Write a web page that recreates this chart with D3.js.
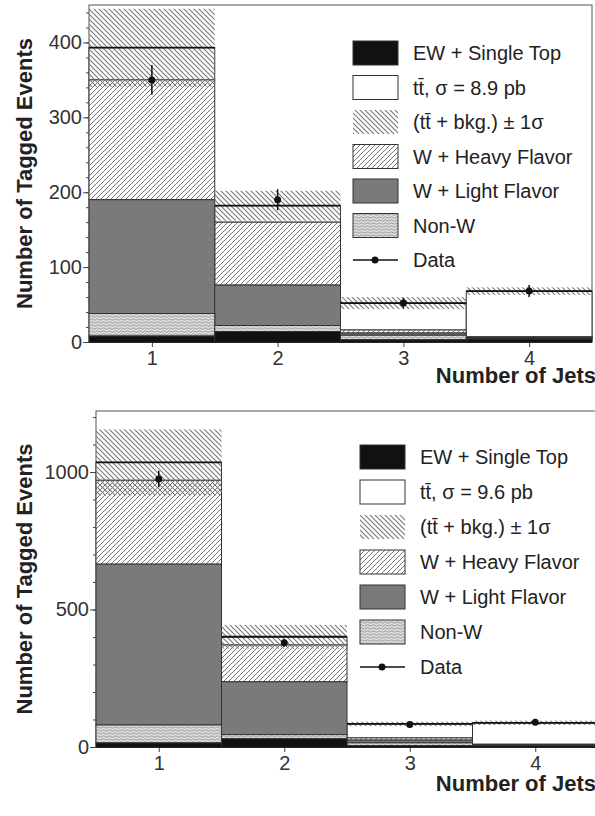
<!DOCTYPE html>
<html><head><meta charset="utf-8">
<script src="https://cdn.jsdelivr.net/npm/d3@7"></script>
<style>body{margin:0;background:#fff}svg{display:block;font-family:"Liberation Sans",Arial,sans-serif}</style>
</head><body><svg id="c" width="595" height="816"></svg>
<script>
// stacked tops (cumulative) per jet bin
const jets = [1, 2, 3, 4];
const topEW = [8, 14, 3, 4];
const topNonW = [38, 22, 9, 5];
const topLF = [190, 76, 12, 6];
const topHF = [350, 160, 16, 7];
const topTT = [393, 182, 52, 68];
const topErr = [52, 20, 8, 5];
const topData = [350, 190, 52, 68];
const topDataErr = [20, 14, 7, 8];

const botEW = [15, 30, 5, 3];
const botNonW = [80, 45, 15, 5];
const botLF = [665, 237, 25, 8];
const botHF = [970, 371, 33, 10];
const botTT = [1035, 401, 84, 88];
const botErr = [120, 43, 8, 8];
const botData = [975, 379, 82, 90];
const botDataErr = [30, 14, 6, 6];

const svg = d3.select("#c");
const defs = svg.append("defs");
function pat(id, w, h, draw) {
  const p = defs.append("pattern").attr("id", id).attr("patternUnits", "userSpaceOnUse")
    .attr("width", w).attr("height", h);
  draw(p);
}
pat("hf", 5, 5, p => {
  p.append("rect").attr("width", 5).attr("height", 5).attr("fill", "#fff");
  p.append("path").attr("d", "M0,5L5,0M-1,1L1,-1M4,6L6,4").attr("stroke", "#666").attr("stroke-width", 0.9);
});
pat("band", 5, 5, p => {
  p.append("path").attr("d", "M0,0L5,5M-1,4L1,6M4,-1L6,1").attr("stroke", "#777").attr("stroke-width", 1.1);
});
pat("nonw", 6, 3, p => {
  p.append("rect").attr("width", 6).attr("height", 3).attr("fill", "#ddd");
  p.append("path").attr("d", "M0,1.5Q1.5,0 3,1.5T6,1.5").attr("fill", "none").attr("stroke", "#888").attr("stroke-width", 0.8);
});

const fills = { ew: "#111", tt: "#fff", band: "url(#band)", hf: "url(#hf)", lf: "#7a7a7a", nonw: "url(#nonw)" };

function panel(cfg) {
  const { left, right, top, bottom, ymax, major, minor, d, leg } = cfg;
  const x = d3.scaleLinear().domain([0.5, 4.5]).range([left, right]);
  const y = d3.scaleLinear().domain([0, ymax]).range([bottom, top]);
  const g = svg.append("g");
  g.append("rect").attr("x", left).attr("y", top).attr("width", right - left).attr("height", bottom - top)
    .attr("fill", "#fff").attr("stroke", "#555").attr("stroke-width", 1);

  const layers = [
    ["tt", d.tt, d.hf], ["hf", d.hf, d.lf], ["lf", d.lf, d.nonw], ["nonw", d.nonw, d.ew], ["ew", d.ew, d.ew.map(() => 0)]
  ];
  layers.forEach(([k, hi, lo]) => {
    g.selectAll(null).data(jets).join("rect")
      .attr("x", j => x(j - 0.5)).attr("width", x(1.5) - x(0.5))
      .attr("y", (j, i) => y(hi[i])).attr("height", (j, i) => y(lo[i]) - y(hi[i]))
      .attr("fill", fills[k]).attr("stroke", "#333").attr("stroke-width", 1);
  });
  // uncertainty band
  g.selectAll(null).data(jets).join("rect")
    .attr("x", j => x(j - 0.5)).attr("width", x(1.5) - x(0.5))
    .attr("y", (j, i) => y(d.tt[i] + d.err[i])).attr("height", (j, i) => y(d.tt[i] - d.err[i]) - y(d.tt[i] + d.err[i]))
    .attr("fill", fills.band);
  g.selectAll(null).data(jets).join("line")
    .attr("x1", j => x(j - 0.5)).attr("x2", j => x(j + 0.5))
    .attr("y1", (j, i) => y(d.tt[i])).attr("y2", (j, i) => y(d.tt[i]))
    .attr("stroke", "#111").attr("stroke-width", 1.8);
  // data
  g.selectAll(null).data(jets).join("line")
    .attr("x1", j => x(j)).attr("x2", j => x(j))
    .attr("y1", (j, i) => y(d.data[i] - d.derr[i])).attr("y2", (j, i) => y(d.data[i] + d.derr[i]))
    .attr("stroke", "#111").attr("stroke-width", 1.5);
  g.selectAll(null).data(jets).join("circle")
    .attr("cx", j => x(j)).attr("cy", (j, i) => y(d.data[i])).attr("r", 3.5).attr("fill", "#111");

  // axes
  const ya = g.append("g").attr("transform", `translate(${left},0)`)
    .call(d3.axisLeft(y).tickValues(d3.range(0, ymax + 1, major)).tickSize(6).tickPadding(1).tickFormat(d3.format("d")));
  g.append("g").attr("transform", `translate(${left},0)`)
    .call(d3.axisLeft(y).tickValues(d3.range(0, ymax + 1, minor)).tickSize(3).tickFormat(""));
  const xa = g.append("g").attr("transform", `translate(0,${bottom})`)
    .call(d3.axisBottom(x).tickValues(jets).tickSize(5).tickPadding(4).tickFormat(d3.format("d")));
  [ya, xa].forEach(a => {
    a.select(".domain").remove();
    a.selectAll("text").attr("font-size", 20).attr("fill", "#333").attr("font-family", "Liberation Sans, Arial, sans-serif");
  });
  g.selectAll(".domain").remove();
  g.selectAll(".tick line").attr("stroke", "#444");
  g.append("line").attr("x1", left).attr("x2", right).attr("y1", bottom).attr("y2", bottom).attr("stroke", "#111").attr("stroke-width", 1.5);

  g.append("text").attr("transform", `translate(${cfg.ytx},${(top + bottom) / 2}) rotate(-90)`)
    .attr("text-anchor", "middle").attr("font-weight", "bold").attr("font-size", 22).attr("fill", "#222")
    .text("Number of Tagged Events");
  g.append("text").attr("x", 596).attr("y", cfg.xty).attr("text-anchor", "end")
    .attr("font-weight", "bold").attr("font-size", 22).attr("fill", "#222").text("Number of Jets");

  // legend
  const items = [
    ["ew", "EW + Single Top"], ["tt", `tt\u0304, \u03c3 = ${cfg.sigma} pb`], ["band", "(tt\u0304 + bkg.) \u00b1 1\u03c3"],
    ["hf", "W + Heavy Flavor"], ["lf", "W + Light Flavor"], ["nonw", "Non-W"], ["data", "Data"]
  ];
  items.forEach(([k, label], i) => {
    const yy = leg.y + i * leg.dy;
    if (k === "data") {
      g.append("line").attr("x1", leg.x).attr("x2", leg.x + 45).attr("y1", yy).attr("y2", yy).attr("stroke", "#111").attr("stroke-width", 1.5);
      g.append("circle").attr("cx", leg.x + 22).attr("cy", yy).attr("r", 3.5).attr("fill", "#111");
    } else {
      g.append("rect").attr("x", leg.x).attr("y", yy - 12).attr("width", 45).attr("height", 24)
        .attr("fill", fills[k]).attr("stroke", k === "band" ? "none" : "#333");
    }
    g.append("text").attr("x", leg.x + 60).attr("y", yy + 7).attr("font-size", 20).attr("fill", "#222").text(label);
  });
}

panel({ left: 89, right: 592, top: 5, bottom: 342, ymax: 450, major: 100, minor: 20,
  d: { ew: topEW, nonw: topNonW, lf: topLF, hf: topHF, tt: topTT, err: topErr, data: topData, derr: topDataErr },
  leg: { x: 353, y: 53, dy: 34.5 }, sigma: "8.9", ytx: 32, xty: 383 });
panel({ left: 96, right: 598, top: 411, bottom: 747, ymax: 1222, major: 500, minor: 100,
  d: { ew: botEW, nonw: botNonW, lf: botLF, hf: botHF, tt: botTT, err: botErr, data: botData, derr: botDataErr },
  leg: { x: 360, y: 457, dy: 35 }, sigma: "9.6", ytx: 32, xty: 791 });
</script></body></html>
